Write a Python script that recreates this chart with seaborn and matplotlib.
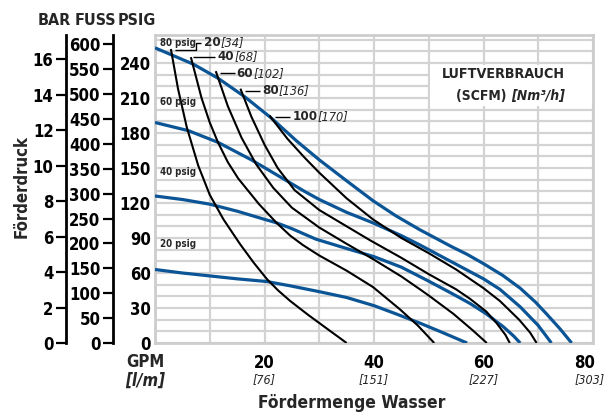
import numpy as np
import pandas as pd
import seaborn as sns
import matplotlib.pyplot as plt
from matplotlib.patches import Rectangle
from matplotlib.transforms import ScaledTranslation

# ---- values: flow (GPM) vs discharge pressure (PSIG) ----
# blue curves: air inlet pressure
air_pressures = ['20 psig', '40 psig', '60 psig', '80 psig']
p20_gpm = [0, 5, 10, 15, 20.4, 24.7, 30, 35, 40, 44, 48.4, 52, 54.5, 57]
p20_psig = [63, 60, 57.5, 55, 52.7, 49, 44, 39, 32, 25, 17, 10, 5, 0]
p40_gpm = [0, 5, 10, 15, 20, 22.2, 25, 29.4, 35, 40, 45, 50, 54, 57.5, 60.5, 63.6, 65.5, 66.7]
p40_psig = [126, 123, 119, 113, 106, 103, 98, 89, 81, 74, 65, 53, 43, 34, 25, 14, 6, 0]
p60_gpm = [0, 6.1, 11.5, 17.6, 23, 27.3, 30, 35, 39.8, 45, 48.4, 54, 60, 63, 66.7, 70, 72.4]
p60_psig = [189, 182, 172, 157, 142, 130, 123, 112, 103, 92, 84, 70, 55, 46, 31, 15, 0]
p80_gpm = [0, 7, 11.5, 16.4, 21.2, 25.9, 30, 35, 39.8, 44, 48.4, 54, 57, 60, 63.5, 66.7, 69.5, 71.5, 74, 76.1]
p80_psig = [253, 239, 227, 211, 193, 173, 157, 139, 122, 109, 97, 83, 76, 68, 58, 47, 35, 25, 12, 0]

# black curves: air consumption (SCFM)
air_flows = ['20', '40', '60', '80', '100']
air_flows_nm3 = ['[34]', '[68]', '[102]', '[136]', '[170]']
c20_gpm = [2.9, 4.2, 5.8, 7.9, 10, 12.5, 15.5, 18, 20.4, 22.5, 24.7, 28, 31.5, 35]
c20_psig = [252, 218, 185, 152, 127, 106, 85, 69, 55, 45, 36, 24, 12, 0]
c40_gpm = [6.55, 8.5, 10, 11.5, 13.3, 15.2, 19, 22.2, 24.7, 27, 30, 35, 39.8, 44.7, 48, 51]
c40_psig = [245, 210, 189, 172, 155, 141, 119, 103, 92, 84, 75, 62, 48, 29, 15, 0]
c60_gpm = [11.1, 13.3, 15.8, 18.5, 21.6, 25, 30, 35, 39.8, 45, 48.4, 50.2, 54.5, 58, 60.6]
c60_psig = [233, 203, 176, 153, 133, 116, 99, 85, 72, 57, 46, 40, 25, 11, 0]
c80_gpm = [15.6, 17.6, 20, 22.4, 25.5, 30, 35, 39.3, 45, 50, 55, 57.5, 60.5, 62.4, 64, 64.8]
c80_psig = [218, 194, 170, 150, 131, 114, 100, 88, 73, 59, 46, 38, 27, 17, 7, 0]
c100_gpm = [20.9, 24.2, 27.3, 30, 35, 39.8, 45, 50, 55, 60, 63, 66.5, 68.5, 69.7]
c100_psig = [195, 175, 159, 146, 124, 106, 90, 77, 63, 47, 36, 20, 9, 0]

# axis ticks
psig_ticks = [0, 30, 60, 90, 120, 150, 180, 210, 240]
bar_ticks = [0, 2, 4, 6, 8, 10, 12, 14, 16]
fuss_ticks = [0, 50, 100, 150, 200, 250, 300, 350, 400, 450, 500, 550, 600]
gpm_ticks = [20, 40, 60, 80]
lpm_labels = ['[76]', '[151]', '[227]', '[303]']

# scales of the side axes as drawn in the chart
PSI_PER_BAR = 15.2
FT_PER_PSI = 2.345

blue_df = pd.concat([pd.DataFrame({'gpm': g, 'psig': p, 'curve': n})
                     for n, g, p in zip(air_pressures,
                                        [p20_gpm, p40_gpm, p60_gpm, p80_gpm],
                                        [p20_psig, p40_psig, p60_psig, p80_psig])])
black_df = pd.concat([pd.DataFrame({'gpm': g, 'psig': p, 'curve': n})
                      for n, g, p in zip(air_flows,
                                         [c20_gpm, c40_gpm, c60_gpm, c80_gpm, c100_gpm],
                                         [c20_psig, c40_psig, c60_psig, c80_psig, c100_psig])])

sns.set_theme(style='white')
plt.rcParams['font.family'] = ['DejaVu Sans']
plt.rcParams['font.stretch'] = 'condensed'
plt.rcParams['font.weight'] = 'bold'

BLUE = '#0b5596'
W, H = 607, 412
fig = plt.figure(figsize=(W / 100, H / 100), dpi=100)
ax = fig.add_axes([155 / W, 1 - 343 / H, 438 / W, 308 / H])

sns.lineplot(data=blue_df, x='gpm', y='psig', units='curve', estimator=None, sort=False,
             color=BLUE, lw=2.3, ax=ax, legend=False, solid_capstyle='butt', zorder=3)
sns.lineplot(data=black_df, x='gpm', y='psig', units='curve', estimator=None, sort=False,
             color='black', lw=1.5, ax=ax, legend=False, solid_capstyle='butt', zorder=4)

ax.set_xlim(0, 80)
ax.set_ylim(0, 264)
ax.set_xticks(range(0, 81, 10))
ax.set_xticklabels([str(v) if v in gpm_ticks else '' for v in range(0, 81, 10)])
ax.set_yticks(range(0, 261, 10))
ax.set_yticklabels([str(v) if v in psig_ticks else '' for v in range(0, 261, 10)])
ax.set_xlabel('')
ax.set_ylabel('')
ax.grid(True, color='#d3d3d3', lw=1.6)
ax.set_axisbelow(True)
for s in ax.spines.values():
    s.set_color('#cdcdcd')
    s.set_linewidth(2)
ax.tick_params(axis='y', length=0, pad=3, labelsize=12, labelcolor='black')
ax.tick_params(axis='x', length=0, pad=8, labelsize=12, labelcolor='black')
lab80 = ax.get_xticklabels()[-1]
lab80.set_transform(lab80.get_transform() + ScaledTranslation(-6 / 72, 0, fig.dpi_scale_trans))

xt = ax.get_xaxis_transform()
for g, s in zip(gpm_ticks, lpm_labels):
    dx = -0.6 if g == 80 else 0
    ax.text(g + dx, -0.12, s, transform=xt, ha='center', va='center', fontsize=9,
            style='italic', fontweight='normal', clip_on=False)

# side axes: BAR and FUSS
bar_ax = ax.secondary_yaxis((66 - 155) / 438, functions=(lambda p: p / PSI_PER_BAR, lambda b: b * PSI_PER_BAR))
fuss_ax = ax.secondary_yaxis((113 - 155) / 438, functions=(lambda p: p * FT_PER_PSI, lambda f: f / FT_PER_PSI))
for sa, ticks in [(bar_ax, bar_ticks), (fuss_ax, fuss_ticks)]:
    sa.set_yticks(ticks)
    sa.spines['left'].set_color('black')
    sa.spines['left'].set_linewidth(2)
    sa.tick_params(axis='y', left=True, direction='out', length=7, width=1.6, pad=2,
                   labelsize=12, color='black', labelcolor='black')

# white box behind the legend text
ax.add_patch(Rectangle((50.25, 203), 29.75, 35.5, facecolor='white', edgecolor='none', zorder=1))
ax.text(74.9, 230.5, 'LUFTVERBRAUCH', ha='right', va='center', fontsize=10.3, zorder=5)
t_unit = ax.text(74.9, 212, '[Nm³/h]', ha='right', va='center', fontsize=10,
                 style='italic', zorder=5)
ax.annotate('(SCFM) ', xy=(0, 0), xycoords=t_unit, ha='right', va='bottom', fontsize=10, zorder=5)

# air pressure labels
for name, y in zip(['80 psig', '60 psig', '40 psig', '20 psig'], [257, 206.7, 146.7, 84.9]):
    ax.text(1.0, y, name, ha='left', va='center', fontsize=7, zorder=5)

# air consumption labels with leader lines
leaders = [([3.65, 7.5, 7.5, 8.4], [251, 251, 257.5, 257.5]),
           ([7.0, 11.0], [245.5, 245.5]),
           ([11.9, 14.6], [231.3, 231.3]),
           ([16.4, 19.2], [216.4, 216.4]),
           ([21.9, 24.7], [194, 194])]
text_x = [8.9, 11.4, 14.9, 19.5, 25.1]
for (lx, ly), tx, num, nm in zip(leaders, text_x, air_flows, air_flows_nm3):
    ax.plot(lx, ly, color='black', lw=1.0, zorder=5, solid_capstyle='butt')
    t = ax.text(tx, ly[-1], num, ha='left', va='center', fontsize=9.5, zorder=5)
    ax.annotate(nm, xy=(1, 0), xycoords=t, ha='left', va='bottom', fontsize=9.2,
                style='italic', fontweight='normal', zorder=5)

# axis titles
def fx(x):
    return x / W

def fy(y):
    return 1 - y / H

fig.text(fx(54), fy(20.5), 'BAR', ha='center', va='center', fontsize=11.5)
fig.text(fx(95), fy(20.5), 'FUSS', ha='center', va='center', fontsize=11.5)
fig.text(fx(137), fy(20.5), 'PSIG', ha='center', va='center', fontsize=11.5)
fig.text(fx(22), fy(187), 'Förderdruck', ha='center', va='center', fontsize=12, rotation=90)
fig.text(fx(145), fy(362), 'GPM', ha='center', va='center', fontsize=12)
fig.text(fx(145), fy(381), '[l/m]', ha='center', va='center', fontsize=12, style='italic')
fig.text(fx(352), fy(403), 'Fördermenge Wasser', ha='center', va='center', fontsize=12.5)

fig.savefig('out.png', dpi=100)
